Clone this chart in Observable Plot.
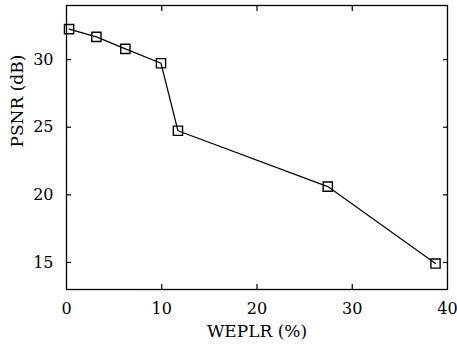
<!DOCTYPE html>
<html>
<head>
<meta charset="utf-8">
<script src="https://cdn.jsdelivr.net/npm/d3@7"></script>
<script src="https://cdn.jsdelivr.net/npm/@observablehq/plot@0.6"></script>
<style>
  body { margin: 0; background: #fff; }
  #chart svg, #chart svg text { font-family: "DejaVu Serif", serif !important; }
</style>
</head>
<body>
<div id="chart"></div>
<script>
// Packet-loss rate (%) against reconstructed quality (dB)
const weplr = [0.27, 3.14, 6.18, 9.92, 11.70, 27.43, 38.74];
const psnr = [32.25, 31.68, 30.79, 29.73, 24.74, 20.61, 14.92];

const xTicks = [0, 10, 20, 30, 40];
const xInnerTicks = [10, 20, 30];
const yTicks = [15, 20, 25, 30];
const xLabel = "WEPLR (%)";
const yLabel = "PSNR (dB)";

const rows = weplr.map((x, i) => ({x, y: psnr[i]}));
const noText = () => "";
const serif = "DejaVu Serif";

const chart = Plot.plot({
  width: 457,
  height: 352,
  marginLeft: 66,
  marginTop: 5,
  marginRight: 10,
  marginBottom: 63,
  style: {fontFamily: serif, fontSize: "16px", background: "white", color: "black"},
  x: {domain: [0, 40]},
  y: {domain: [13, 34]},
  marks: [
    Plot.frame({stroke: "black", strokeWidth: 1.3}),
    // tick labels
    Plot.axisX(xTicks, {tickSize: 0, tickPadding: 13, label: null, fontSize: 16, fontFamily: serif}),
    Plot.axisY(yTicks, {tickSize: 0, tickPadding: 13, label: null, fontSize: 16, fontFamily: serif}),
    // inward tick marks on all four sides
    Plot.axisX(xInnerTicks, {tickSize: -5, tickFormat: noText, label: null, strokeWidth: 1.2}),
    Plot.axisX(xInnerTicks, {anchor: "top", tickSize: -5, tickFormat: noText, label: null, strokeWidth: 1.2}),
    Plot.axisY(yTicks, {tickSize: -5, tickFormat: noText, label: null, strokeWidth: 1.2}),
    Plot.axisY(yTicks, {anchor: "right", tickSize: -5, tickFormat: noText, label: null, strokeWidth: 1.2}),
    // series
    Plot.line(rows, {x: "x", y: "y", stroke: "black", strokeWidth: 1.2}),
    Plot.dot(rows, {x: "x", y: "y", symbol: "square", r: 5.2, stroke: "black", strokeWidth: 1.4, fill: "none"}),
    // axis titles
    Plot.text([xLabel], {frameAnchor: "bottom", dy: 47, fontSize: 17, fontFamily: serif}),
    Plot.text([yLabel], {frameAnchor: "left", dx: -49, rotate: -90, fontSize: 17, fontFamily: serif})
  ]
});
document.getElementById("chart").appendChild(chart);
</script>
</body>
</html>
